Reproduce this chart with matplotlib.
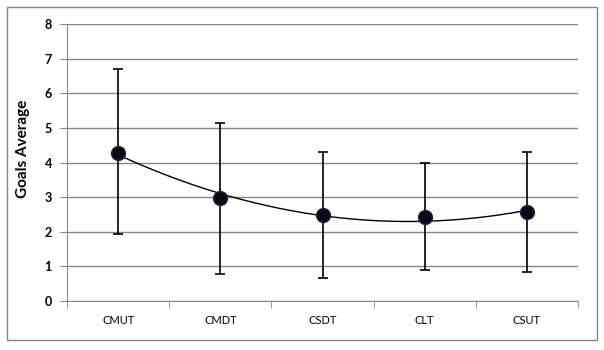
import matplotlib.pyplot as plt
import numpy as np
from matplotlib.patches import Rectangle

# Data
categories = ['CMUT', 'CMDT', 'CSDT', 'CLT', 'CSUT']
averages = [4.29, 2.97, 2.48, 2.42, 2.56]
err_low = [1.93, 0.77, 0.66, 0.90, 0.83]
err_high = [6.69, 5.14, 4.30, 3.98, 4.30]

plt.rcParams['font.family'] = ['Lato', 'DejaVu Sans']

x = np.arange(1, len(categories) + 1)
yerr = [np.array(averages) - np.array(err_low), np.array(err_high) - np.array(averages)]

fig = plt.figure(figsize=(6.04, 3.5), dpi=100)
ax = fig.add_axes([0.111, 0.14, 0.846, 0.791])

# grid lines behind everything
ax.set_axisbelow(True)
ax.yaxis.grid(True, color='#868686', linewidth=1)

# polynomial trendline (order 2), like Excel
coef = np.polyfit(x, averages, 2)
xs = np.linspace(1, 5, 200)
ax.plot(xs, np.polyval(coef, xs), color='black', linewidth=1, zorder=2)

ax.errorbar(x, averages, yerr=yerr, fmt='none', ecolor='black', elinewidth=1.2,
            capsize=3.5, capthick=1.2, zorder=3)
ax.plot(x, averages, 'o', markersize=10, color='#0a0a14', markeredgecolor='#1a2540',
        markeredgewidth=1, zorder=4)

ax.set_xlim(0.5, 5.5)
ax.set_ylim(0, 8)
ax.set_yticks(range(0, 9))
ax.set_xticks(x)
ax.set_xticklabels(categories, fontsize=8)
ax.set_xticks(np.arange(0.5, 5.6, 1), minor=True)
ax.tick_params(axis='x', which='major', length=0, pad=10)
ax.tick_params(axis='x', which='minor', length=5, color='#868686', direction='out')
ax.tick_params(axis='y', length=5, color='#868686', labelsize=9, pad=6)
for lab in ax.get_yticklabels():
    lab.set_fontweight('bold')

for s in ['top', 'right']:
    ax.spines[s].set_visible(False)
for s in ['left', 'bottom']:
    ax.spines[s].set_color('#868686')

ax.set_ylabel('Goals Average', fontsize=11, fontweight='bold')
ax.yaxis.set_label_coords(-0.072, 0.55)

# outer chart border
fig.patches.append(Rectangle((7 / 604, 10 / 350), 590 / 604, 333 / 350,
                             transform=fig.transFigure, fill=False,
                             edgecolor='#868686', linewidth=1))

plt.savefig('out.png', dpi=100)
